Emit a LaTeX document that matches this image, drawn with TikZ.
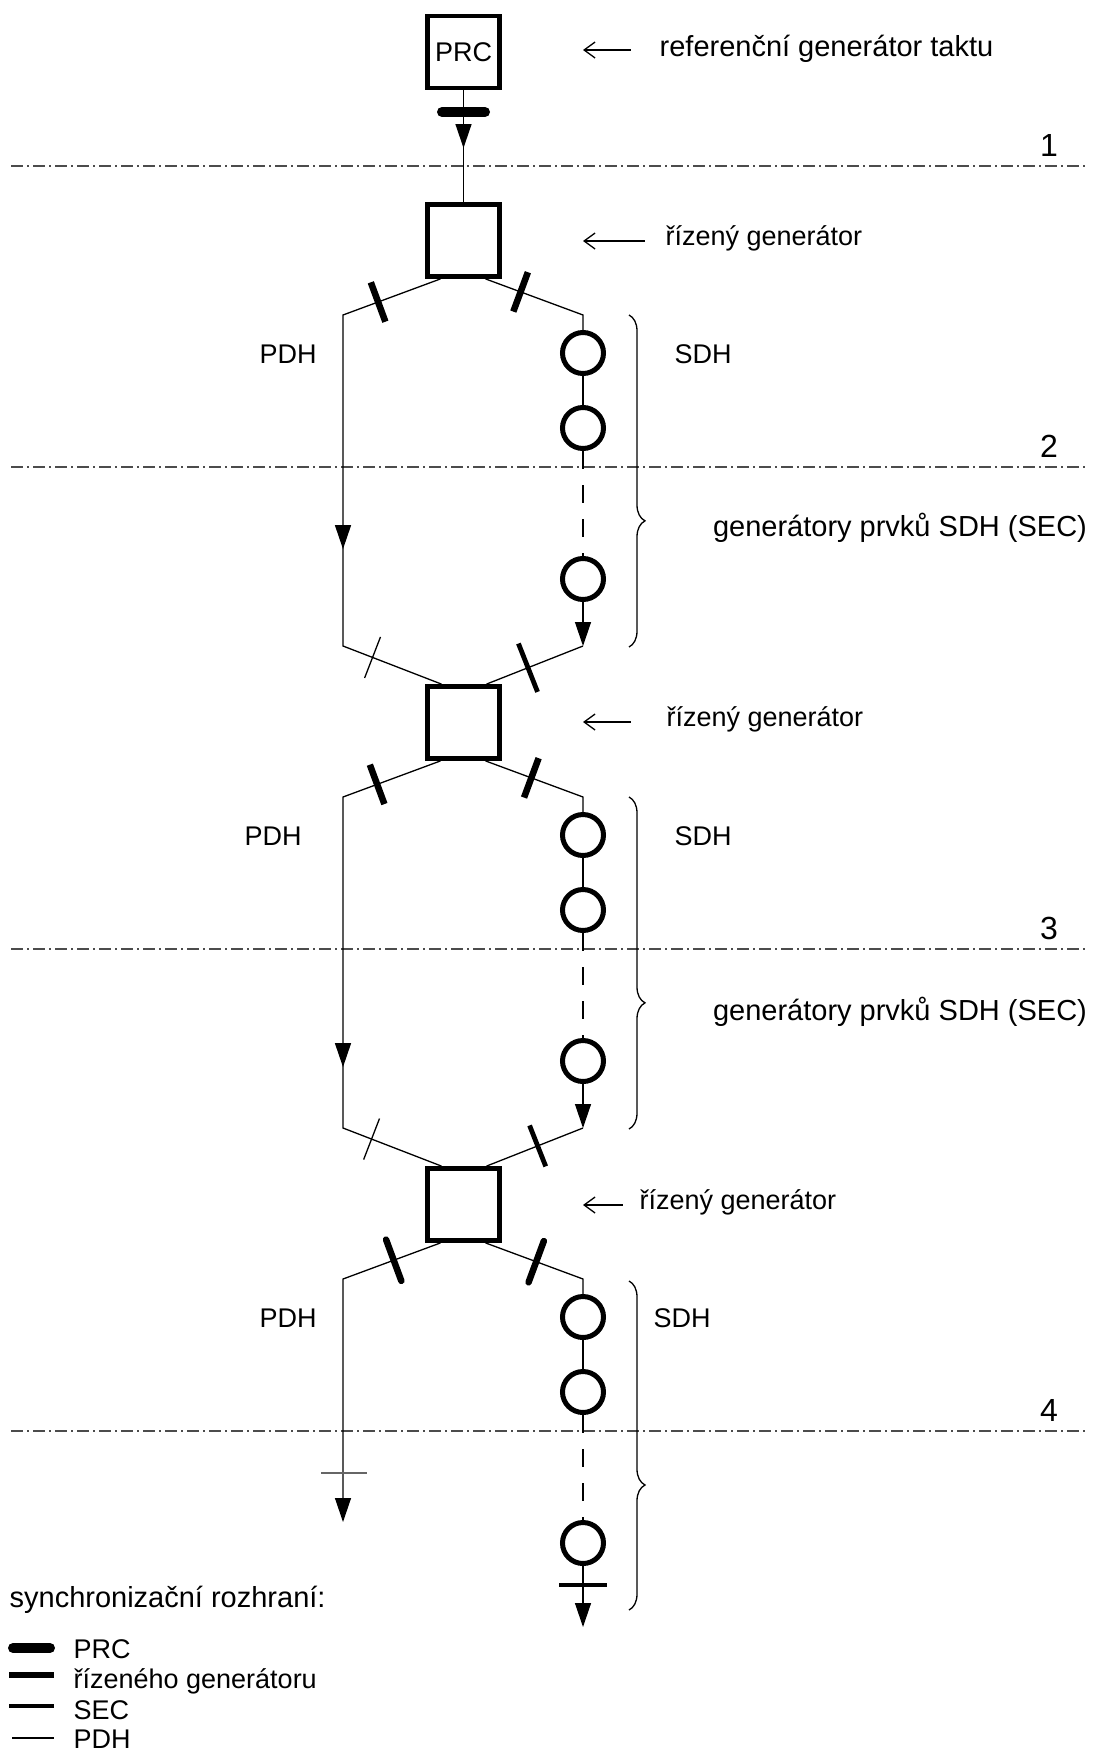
\documentclass[tikz,border=0pt]{standalone}
\usepackage{fontspec}
\setmainfont{Liberation Sans}
\usetikzlibrary{arrows.meta,calc,positioning,decorations.pathreplacing,decorations.markings}

% cross mark on the line #2--#3 at fraction #4, half length #5
\newcommand{\syncmark}[5]{\draw[#1] ($(#2)!#4!(#3)!#5!90:(#3)$) -- ($(#2)!#4!(#3)!#5!-90:(#3)$);}

\begin{document}
\begin{tikzpicture}[x=1pt, y=-1pt, line width=1.3pt,
  gen/.style={rectangle, draw, line width=4.8pt, minimum size=72pt, inner sep=0pt},
  sec/.style={circle, draw, line width=5pt, minimum size=41pt, inner sep=0pt},
  txt/.style={font=\fontsize{29}{34}\selectfont, inner sep=0pt},
  lbl/.style={font=\fontsize{27}{32}\selectfont, inner sep=0pt},
  num/.style={font=\fontsize{32}{38}\selectfont, inner sep=0pt},
  pointer/.style={{Straight Barb[length=11pt,width=16pt]}-},
  flow/.style={-{Triangle[length=24pt,width=16pt]}},
  midflow/.style={postaction={decorate}, decoration={markings, mark=at position #1 with {\arrow{Triangle[length=24pt,width=16pt]}}}},
  refline/.style={line width=1.2pt, black!70, dash pattern=on 12pt off 4pt on 2pt off 4pt},
  dashlink/.style={dash pattern=on 18pt off 16pt},
  ifprc/.style={line width=10pt, line cap=round},
  ifrg/.style={line width=6.5pt},
  ifsec/.style={line width=4.8pt},
  ifpdh/.style={line width=1.3pt},
  bracer/.style={decorate, decoration={brace, amplitude=16pt, aspect=0.62}}]
\useasboundingbox (0,0) rectangle (1094,1751);

% reference levels
\draw[refline] (11,166) -- (1088,166);
\draw[refline] (11,467) -- (1088,467);
\draw[refline] (11,949) -- (1088,949);
\draw[refline] (11,1431) -- (1088,1431);
\node (n1) [num] at (1049,145) {1};
\node (n2) [num] at (1049,446) {2};
\node (n3) [num] at (1049,928) {3};
\node (n4) [num] at (1049,1410) {4};

% generators
\node (prc) [gen, lbl] at (463.5,52) {PRC};
\node (rg1) [gen] at (463.5,240.5) {};
\node (rg2) [gen] at (463.5,722.5) {};
\node (rg3) [gen] at (463.5,1204.5) {};

\draw[midflow=0.516] (prc) -- (rg1);
\draw[ifprc] (442,112) -- (485,112);

% section 1
\node (s1a) [sec] at (583,353) {};
\node (s1b) [sec] at (583,428) {};
\node (s1c) [sec] at (583,579) {};
\coordinate (a1l) at ([xshift=-23pt]rg1.south);
\coordinate (a1r) at ([xshift=22pt]rg1.south);
\coordinate (b1l) at (343,315);
\coordinate (b1r) at (583,315);
\coordinate (e1l) at (343,646);
\coordinate (e1r) at (583,646);
\coordinate (f1l) at ([xshift=-22pt]rg2.north);
\coordinate (f1r) at ([xshift=23pt]rg2.north);
\draw[midflow=338pt] (a1l) -- (b1l) -- (e1l) -- (f1l);
\draw (a1r) -- (b1r) -- (s1a);
\draw (s1a) -- (s1b);
\draw[dashlink] (s1b) -- (s1c);
\draw[flow] (s1c) -- (e1r);
\draw (e1r) -- (f1r);
\syncmark{ifrg}{a1l}{b1l}{0.64}{21pt}
\syncmark{ifrg}{a1r}{b1r}{0.36}{21pt}
\syncmark{ifpdh}{e1l}{f1l}{0.30}{22pt}
\syncmark{ifsec}{e1r}{f1r}{0.57}{26pt}

% section 2
\node (s2a) [sec] at (583,835) {};
\node (s2b) [sec] at (583,910) {};
\node (s2c) [sec] at (583,1061) {};
\coordinate (a2l) at ([xshift=-23pt]rg2.south);
\coordinate (a2r) at ([xshift=22pt]rg2.south);
\coordinate (b2l) at (343,797);
\coordinate (b2r) at (583,797);
\coordinate (e2l) at (343,1128);
\coordinate (e2r) at (583,1128);
\coordinate (f2l) at ([xshift=-22pt]rg3.north);
\coordinate (f2r) at ([xshift=23pt]rg3.north);
\draw[midflow=374pt] (a2l) -- (b2l) -- (e2l) -- (f2l);
\draw (a2r) -- (b2r) -- (s2a);
\draw (s2a) -- (s2b);
\draw[dashlink] (s2b) -- (s2c);
\draw[flow] (s2c) -- (e2r);
\draw (e2r) -- (f2r);
\syncmark{ifrg}{a2l}{b2l}{0.65}{21pt}
\syncmark{ifrg}{a2r}{b2r}{0.47}{21pt}
\syncmark{ifpdh}{e2l}{f2l}{0.29}{22pt}
\syncmark{ifsec}{e2r}{f2r}{0.47}{22pt}

% section 3
\node (s3a) [sec] at (583,1317) {};
\node (s3b) [sec] at (583,1392) {};
\node (s3c) [sec] at (583,1543) {};
\coordinate (a3l) at ([xshift=-23pt]rg3.south);
\coordinate (a3r) at ([xshift=22pt]rg3.south);
\coordinate (b3l) at (343,1279);
\coordinate (b3r) at (583,1279);
\coordinate (end3l) at (343,1522);
\coordinate (end3r) at (583,1627);
\draw[flow] (a3l) -- (b3l) -- (end3l);
\draw (a3r) -- (b3r) -- (s3a);
\draw (s3a) -- (s3b);
\draw[dashlink] (s3b) -- (s3c);
\draw[flow] (s3c) -- (end3r);
\draw[ifpdh, black!60] (321,1473) -- (367,1473);
\draw[ifsec] (559,1585) -- (607,1585);
\syncmark{ifrg, line cap=round}{a3l}{b3l}{0.48}{22pt}
\syncmark{ifrg, line cap=round}{a3r}{b3r}{0.52}{22pt}

% braces
\draw[bracer] (629,315) -- (629,647);
\draw[bracer] (629,797) -- (629,1129);
\draw[bracer] (629,1281) -- (629,1610);

% labels
\coordinate (tip0) at (583,50);
\coordinate (tip1) at (583,241);
\coordinate (tip2) at (583,722);
\coordinate (tip3) at (583,1205);
\node (tref) [txt, right=76pt of tip0, anchor=base west, yshift=-6pt] {referenční generátor taktu};
\draw[pointer] (tip0) -- ++(48,0);
\node (tg1) [lbl, right=82pt of tip1, anchor=base west, yshift=-4pt] {řízený generátor};
\draw[pointer] (tip1) -- ++(62,0);
\node (tg2) [lbl, right=83pt of tip2, anchor=base west, yshift=-4pt] {řízený generátor};
\draw[pointer] (tip2) -- ++(48,0);
\node (tg3) [lbl, right=56pt of tip3, anchor=base west, yshift=-4pt] {řízený generátor};
\draw[pointer] (tip3) -- ++(40,0);

\node (pdh1) [lbl] at (288,354) {PDH};
\node (sdh1) [lbl] at (703,354) {SDH};
\node (gsec1) [txt] at (900,528) {generátory prvků SDH (SEC)};
\node (pdh2) [lbl] at (273,836) {PDH};
\node (sdh2) [lbl] at (703,836) {SDH};
\node (gsec2) [txt] at (900,1012) {generátory prvků SDH (SEC)};
\node (pdh3) [lbl] at (288,1318) {PDH};
\node (sdh3) [lbl] at (682,1318) {SDH};

% legend
\node (leg) [txt, anchor=base west] at (9,1607) {synchronizační rozhraní:};
\draw[ifprc] (13,1648) -- (50,1648);
\node (legprc) [lbl, anchor=base west] at (73,1658) {PRC};
\draw[ifrg] (9,1675) -- (54,1675);
\node (legrg) [lbl, anchor=base west] at (73,1688) {řízeného generátoru};
\draw[ifsec] (9,1706) -- (54,1706);
\node (legsec) [lbl, anchor=base west] at (73,1719) {SEC};
\draw[ifpdh] (12,1738) -- (54,1738);
\node (legpdh) [lbl, anchor=base west] at (73,1748) {PDH};
\end{tikzpicture}
\end{document}
